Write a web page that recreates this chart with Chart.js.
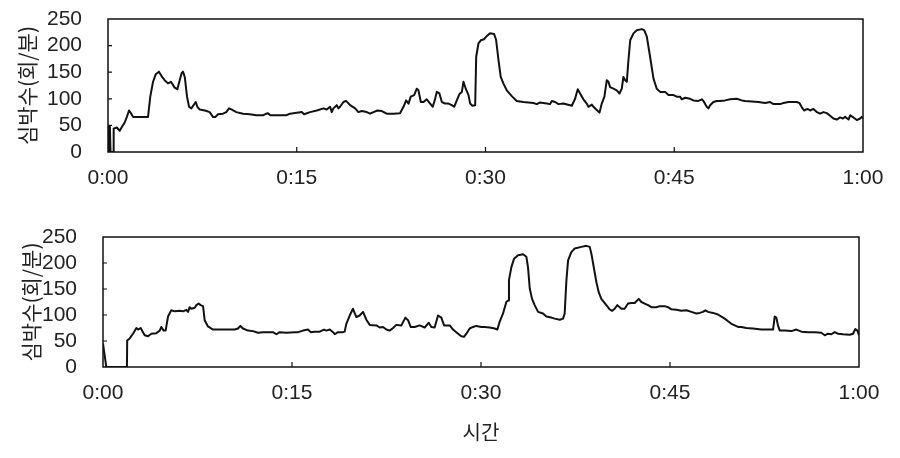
<!DOCTYPE html>
<html>
<head>
<meta charset="utf-8">
<script src="https://cdn.jsdelivr.net/npm/chart.js@4.4.1/dist/chart.umd.min.js"></script>
<style>
  body { margin: 0; background: #fff; }
  .wrap { position: absolute; left: 0; width: 900px; }
  #topWrap { top: 0; height: 200px; }
  #botWrap { top: 200px; height: 244px; }
</style>
</head>
<body>
<div class="wrap" id="topWrap"><canvas id="topChart" width="900" height="200"></canvas></div>
<div class="wrap" id="botWrap"><canvas id="botChart" width="900" height="244"></canvas></div>
<script>
// ==============================
// DATA (minutes, beats per minute)
// ==============================
const topTime = [0, 0.05, 0.12, 0.15, 0.2, 0.4, 0.45, 0.7, 0.93, 1.1, 1.32, 1.5, 1.67, 1.85, 1.99, 3.18, 3.36, 3.58, 3.79, 4.05,
  4.3, 4.5, 4.77, 5.0, 5.3, 5.51, 5.7, 5.85, 5.96, 6.1, 6.28, 6.44, 6.62, 6.8, 6.97, 7.1, 7.28, 7.7, 8.08, 8.34,
  8.54, 8.74, 9.14, 9.4, 9.62, 9.8, 10.2, 10.73, 11.26, 11.79, 12.32, 12.58, 12.71, 12.9, 14.17, 14.47, 15.4, 15.58, 16.06, 16.59,
  17.12, 17.38, 17.65, 17.78, 17.91, 18.18, 18.31, 18.44, 18.71, 18.92, 19.24, 19.64, 19.9, 20.17, 20.56, 20.83, 21.09, 21.41, 21.76, 22.15,
  22.68, 23.21, 23.48, 23.69, 23.88, 24.06, 24.33, 24.54, 24.67, 24.86, 25.07, 25.33, 25.6, 25.81, 26.0, 26.13, 26.34, 26.53, 26.79, 27.06,
  27.32, 27.51, 27.72, 27.93, 28.12, 28.25, 28.43, 28.65, 28.78, 28.96, 29.18, 29.26, 29.44, 29.63, 29.89, 30.1, 30.36, 30.68, 30.84, 31.03,
  31.21, 31.42, 31.69, 32.09, 32.48, 33.01, 33.81, 34.07, 34.34, 34.87, 35.13, 35.27, 35.53, 35.8, 36.19, 36.72, 36.86, 37.12, 37.33, 37.52,
  37.78, 38.05, 38.18, 38.45, 38.58, 38.84, 39.06, 39.24, 39.45, 39.64, 39.77, 39.9, 40.17, 40.43, 40.65, 40.83, 40.96, 41.1, 41.23, 41.36,
  41.5, 41.76, 42.02, 42.42, 42.61, 42.82, 43.08, 43.35, 43.61, 43.88, 44.28, 44.54, 44.94, 45.2, 45.46, 45.6, 45.86, 46.26, 46.52, 46.92,
  47.19, 47.32, 47.58, 47.72, 47.85, 48.11, 48.38, 48.64, 49.04, 49.44, 49.97, 50.37, 50.63, 51.16, 51.69, 52.22, 52.62, 52.88, 53.41, 53.68,
  54.08, 54.74, 54.95, 55.14, 55.32, 55.59, 55.8, 56.06, 56.33, 56.59, 56.86, 57.12, 57.34, 57.65, 57.92, 58.18, 58.4, 58.58, 58.85, 58.98,
  59.24, 59.51, 59.77, 59.9, 60];
const topHr = [48, 0, 0, 48, 0, 0, 44, 46, 40, 47, 55, 66, 78, 72, 66, 66, 104, 132, 146, 151,
  141, 135, 129, 132, 121, 118, 135, 148, 151, 141, 104, 85, 82, 88, 94, 85, 80, 78, 75, 66,
  66, 71, 72, 75, 82, 80, 75, 72, 71, 69, 69, 72, 73, 69, 69, 72, 75, 71, 75, 78,
  82, 80, 85, 75, 82, 88, 82, 85, 94, 96, 88, 82, 75, 77, 75, 72, 75, 78, 77, 72,
  72, 73, 85, 97, 91, 104, 107, 119, 116, 94, 94, 99, 91, 85, 100, 113, 110, 94, 91, 91,
  88, 85, 97, 109, 113, 132, 119, 107, 91, 87, 88, 179, 204, 210, 212, 218, 223, 222, 211, 173,
  141, 129, 116, 105, 96, 94, 92, 90, 93, 91, 90, 96, 94, 90, 91, 88, 87, 100, 118, 110,
  99, 91, 85, 89, 85, 79, 74, 91, 104, 135, 132, 122, 119, 116, 110, 119, 141, 135, 132, 173,
  210, 223, 229, 231, 229, 217, 179, 138, 119, 113, 113, 107, 107, 104, 104, 99, 102, 100, 97, 96,
  99, 96, 85, 82, 88, 94, 96, 96, 97, 99, 100, 97, 96, 95, 94, 92, 94, 90, 90, 92,
  94, 94, 92, 84, 78, 81, 78, 81, 75, 72, 75, 73, 69, 63, 61, 65, 63, 66, 61, 69,
  65, 60, 63, 66, 63];

const botTime = [0, 0.26, 1.9, 1.92, 2.12, 2.38, 2.65, 2.78, 2.99, 3.17, 3.31, 3.57, 3.84, 4.23, 4.5, 4.63, 4.81, 4.97, 5.16, 5.42,
  5.69, 6.08, 6.35, 6.61, 6.75, 6.88, 7.01, 7.28, 7.41, 7.59, 7.75, 7.94, 8.07, 8.33, 8.73, 9.13, 9.66, 10.19, 10.45, 10.71,
  10.9, 11.11, 11.51, 11.9, 12.3, 12.7, 13.1, 13.49, 13.76, 14.02, 14.55, 15.21, 15.48, 15.88, 16.27, 16.48, 16.8, 17.2, 17.54, 17.73,
  18.0, 18.26, 18.39, 18.65, 19.05, 19.18, 19.31, 19.58, 19.84, 20.11, 20.37, 20.64, 20.9, 21.17, 21.7, 21.96, 22.22, 22.49, 22.75, 23.02,
  23.28, 23.68, 24.0, 24.21, 24.42, 24.74, 25.13, 25.53, 25.85, 26.06, 26.32, 26.59, 26.85, 27.07, 27.52, 27.78, 28.18, 28.44, 28.65, 28.84,
  29.1, 29.37, 29.63, 30.03, 30.29, 30.69, 31.09, 31.3, 31.48, 31.75, 32.01, 32.15, 32.22, 32.41, 32.62, 32.94, 33.34, 33.6, 33.73, 33.87,
  34.05, 34.26, 34.53, 34.92, 35.19, 35.58, 35.85, 36.25, 36.51, 36.64, 36.78, 36.91, 37.17, 37.44, 37.97, 38.36, 38.63, 38.76, 38.97, 39.16,
  39.34, 39.55, 39.95, 40.21, 40.4, 40.61, 40.82, 41.14, 41.4, 41.67, 41.93, 42.2, 42.52, 42.73, 42.99, 43.26, 43.52, 43.92, 44.18, 44.58,
  44.84, 45.11, 45.51, 45.9, 46.3, 46.7, 47.09, 47.36, 47.62, 47.81, 48.02, 48.42, 48.81, 49.08, 49.34, 49.61, 49.87, 50.14, 50.4, 50.66,
  51.06, 51.59, 52.25, 52.78, 53.18, 53.31, 53.44, 53.57, 53.71, 54.1, 54.63, 55.03, 55.43, 55.96, 56.49, 57.01, 57.28, 57.54, 57.81, 58.07,
  58.34, 58.73, 59.26, 59.53, 59.71, 59.87, 60];
const botHr = [45, 0, 0, 51, 55, 64, 75, 72, 75, 67, 61, 59, 64, 65, 70, 77, 70, 70, 97, 109,
  107, 108, 107, 110, 106, 115, 112, 114, 119, 122, 119, 117, 90, 78, 72, 72, 72, 72, 72, 74,
  79, 74, 70, 69, 66, 67, 67, 67, 63, 67, 66, 67, 67, 70, 72, 67, 68, 68, 72, 70,
  72, 67, 63, 67, 67, 68, 83, 99, 112, 96, 99, 106, 91, 81, 80, 76, 77, 72, 70, 75,
  81, 80, 95, 90, 77, 77, 80, 76, 85, 77, 76, 99, 95, 80, 80, 72, 64, 59, 58, 64,
  74, 77, 79, 77, 77, 76, 74, 72, 87, 103, 125, 128, 167, 192, 208, 215, 217, 212, 192, 151,
  131, 119, 106, 103, 97, 95, 93, 91, 93, 103, 167, 205, 221, 228, 231, 233, 231, 218, 189, 163,
  144, 131, 119, 111, 108, 112, 119, 112, 112, 122, 123, 123, 131, 125, 122, 119, 115, 115, 117, 117,
  115, 111, 110, 108, 109, 106, 103, 104, 106, 109, 106, 104, 101, 97, 93, 88, 83, 80, 77, 77,
  75, 74, 72, 72, 72, 97, 95, 80, 70, 70, 69, 72, 68, 67, 67, 66, 61, 64, 63, 67,
  64, 63, 62, 64, 73, 70, 61];

const xTicks = [0, 15, 30, 45, 60];
const yTicks = [0, 50, 100, 150, 200, 250];
const yTitle = "심박수(회/분)";
const xTitle = "시간";

// ==============================
// HELPERS
// ==============================
const tickFont = { family: "'Liberation Sans', Arial, sans-serif", size: 21 };
const krFont = { family: "'Noto Sans CJK KR', sans-serif", size: 21 };

function fmtTime(v) {
  const h = Math.floor(v / 60);
  const m = v % 60;
  return h + ":" + String(m).padStart(2, "0");
}

function toPoints(ts, vs) {
  return ts.map((t, i) => ({ x: t, y: vs[i] }));
}

// frame + inward tick marks
const framePlugin = {
  id: "frame",
  afterDatasetsDraw(chart) {
    const { ctx, chartArea: a, scales } = chart;
    ctx.save();
    ctx.strokeStyle = "#111";
    ctx.lineWidth = 1.5;
    ctx.strokeRect(a.left, a.top, a.right - a.left, a.bottom - a.top);
    ctx.lineWidth = 1.2;
    ctx.beginPath();
    xTicks.slice(1, -1).forEach(v => {
      const px = scales.x.getPixelForValue(v);
      ctx.moveTo(px, a.bottom);
      ctx.lineTo(px, a.bottom - 5);
    });
    yTicks.slice(1, -1).forEach(v => {
      const py = scales.y.getPixelForValue(v);
      ctx.moveTo(a.left, py);
      ctx.lineTo(a.left + 4, py);
    });
    ctx.stroke();
    ctx.restore();
  }
};

function makeChart(id, ts, vs, opt) {
  const ctx = document.getElementById(id).getContext("2d");
  return new Chart(ctx, {
    type: "line",
    data: {
      datasets: [{
        data: toPoints(ts, vs),
        borderColor: "#111",
        borderWidth: 2,
        borderJoinStyle: "round",
        pointRadius: 0,
        tension: 0,
        fill: false,
      }],
    },
    options: {
      responsive: false,
      animation: false,
      devicePixelRatio: 1,
      layout: { padding: opt.padding },
      plugins: { legend: { display: false }, tooltip: { enabled: false } },
      scales: {
        x: {
          type: "linear",
          min: 0,
          max: 60,
          grid: { display: false },
          border: { display: false },
          afterBuildTicks: s => { s.ticks = xTicks.map(v => ({ value: v })); },
          afterFit: s => { s.height = opt.xHeight; s.paddingLeft = 0; s.paddingRight = 0; },
          ticks: {
            color: "#222",
            font: tickFont,
            padding: 6,
            maxRotation: 0,
            autoSkip: false,
            callback: v => fmtTime(v),
          },
          title: {
            display: opt.showXTitle,
            text: xTitle,
            color: "#222",
            font: { family: krFont.family, size: 20 },
            padding: 0,
          },
        },
        y: {
          min: 0,
          max: 250,
          grid: { display: false },
          border: { display: false },
          afterBuildTicks: s => { s.ticks = yTicks.map(v => ({ value: v })); },
          afterFit: s => { s.width = opt.yWidth; s.paddingTop = 0; s.paddingBottom = 0; },
          ticks: { color: "#222", font: tickFont, padding: 18, autoSkip: false },
          title: {
            display: true,
            text: yTitle,
            color: "#222",
            font: krFont,
            padding: 0,
          },
        },
      },
    },
    plugins: [framePlugin],
  });
}

// ==============================
// INIT
// ==============================
makeChart("topChart", topTime, topHr, {
  padding: { left: 14, right: 37, top: 19, bottom: 0 },
  yWidth: 94,
  xHeight: 48,
  showXTitle: false,
});

makeChart("botChart", botTime, botHr, {
  padding: { left: 18, right: 41, top: 37, bottom: 0 },
  yWidth: 85,
  xHeight: 77,
  showXTitle: true,
});
</script>
</body>
</html>
